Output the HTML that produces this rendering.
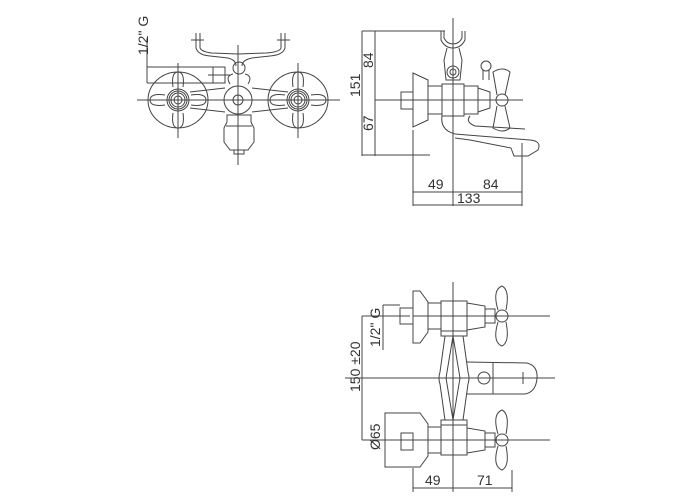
<!DOCTYPE html>
<html><head><meta charset="utf-8"><style>
html,body{margin:0;padding:0;background:#fff;}
svg{display:block;}
text{font-family:"Liberation Sans",sans-serif;font-size:14px;fill:#333;}
</style></head><body>
<svg width="700" height="500" viewBox="0 0 700 500" xmlns="http://www.w3.org/2000/svg">
<g fill="none" stroke="#444" stroke-width="1">
<!-- ===== VIEW 1 (front) ===== -->
<line x1="137" y1="100" x2="340" y2="100"/>
<line x1="178" y1="63" x2="178" y2="138"/>
<line x1="298" y1="63" x2="298" y2="138"/>
<line x1="238" y1="45" x2="238" y2="165"/>
<!-- dim 1/2 G -->
<line x1="147" y1="38" x2="147" y2="83"/>
<line x1="147" y1="67" x2="225" y2="67"/>
<line x1="147" y1="83" x2="225" y2="83"/>
<rect x="213" y="67" width="12" height="16"/>
<line x1="208" y1="75" x2="230" y2="75"/>
<!-- holder U -->
<path d="M196 33 L196 48 Q198 55 210 56 L228 58 Q236 60 236 66 M285 33 L285 48 Q283 55 270 56 L252 58 Q242 60 242 66"/>
<path d="M200 33 L200 48 Q202 52 212 53 L238 54 L266 53 Q280 52 281 48 L281 33"/>
<line x1="191" y1="40" x2="204" y2="40"/><line x1="277" y1="40" x2="290" y2="40"/>
<circle cx="239" cy="68" r="6"/>
<path d="M230 84 Q225 76 233 74 M248 84 Q253 76 245 74"/>
<!-- body -->
<path d="M190 92 L225 88 M190 108 L225 112 M252 88 L288 92 M252 112 L288 108"/>
<circle cx="238" cy="100" r="14"/><circle cx="238" cy="100" r="5"/>
<!-- handles -->
<g>
<ellipse cx="178" cy="100" rx="30" ry="28"/>
<path d="M150 100 Q150 93 165 95 M150 100 Q150 107 165 105 M206 100 Q206 93 191 95 M206 100 Q206 107 191 105 M178 72 Q171 72 173 87 M178 72 Q185 72 183 87 M178 128 Q171 128 173 113 M178 128 Q185 128 183 113"/>
<circle cx="178" cy="100" r="11"/><circle cx="178" cy="100" r="9"/><circle cx="178" cy="100" r="7"/><circle cx="178" cy="100" r="4"/>
</g>
<g>
<ellipse cx="298" cy="100" rx="30" ry="28"/>
<path d="M270 100 Q270 93 285 95 M270 100 Q270 107 285 105 M326 100 Q326 93 311 95 M326 100 Q326 107 311 105 M298 72 Q291 72 293 87 M298 72 Q305 72 303 87 M298 128 Q291 128 293 113 M298 128 Q305 128 303 113"/>
<circle cx="298" cy="100" r="11"/><circle cx="298" cy="100" r="9"/><circle cx="298" cy="100" r="7"/><circle cx="298" cy="100" r="4"/>
</g>
<!-- spout -->
<path d="M227 115 L251 115 L251 122 L254 128 L254 142 L248 150 L230 150 L224 142 L224 128 L227 122 Z"/>
<line x1="226" y1="126" x2="252" y2="126"/>
<rect x="234" y="150" width="10" height="4"/>

<!-- ===== VIEW 2 (side) ===== -->
<line x1="362" y1="31" x2="362" y2="156"/>
<line x1="375" y1="31" x2="375" y2="156"/>
<line x1="362" y1="31" x2="445" y2="31"/>
<line x1="362" y1="155" x2="430" y2="155"/>
<line x1="375" y1="100" x2="523" y2="100"/>
<line x1="453" y1="18" x2="453" y2="206"/>
<!-- holder -->
<path d="M441 31 L441 40 Q445 48 453 48 Q461 48 465 40 L465 31 M444 31 L444 38 Q447 44 453 44 Q459 44 462 38 L462 31"/>
<path d="M447 48 L444 60 L446 80 L460 80 L462 60 L459 48"/>
<circle cx="453" cy="72" r="6"/><circle cx="453" cy="72" r="3"/>
<!-- plate, nut -->
<path d="M413 73 L428 80 L428 120 L413 127 Z"/>
<rect x="401" y="92" width="12" height="17"/>
<rect x="428" y="86" width="14" height="28"/>
<rect x="442" y="84" width="22" height="32"/>
<rect x="464" y="86" width="14" height="28"/>
<path d="M478 88 L490 92 L490 108 L478 112"/>
<!-- valve handle -->
<path d="M483 80 L483 70 M489 80 L489 70"/>
<circle cx="486" cy="66" r="5"/>
<path d="M497 95 L493 72 Q503 66 510 72 L505 95 M497 106 L493 128 Q503 134 510 128 L505 106"/>
<circle cx="502" cy="100" r="6"/>
<!-- spout -->
<path d="M442 116 Q440 130 455 134 L530 140 Q542 141 538 150 L528 156 L514 156 L511 148 L470 140 L455 138 M470 116 Q465 122 475 126 L525 129"/>
<line x1="522" y1="143" x2="522" y2="206"/>
<line x1="413" y1="130" x2="413" y2="206"/>
<line x1="413" y1="192" x2="522" y2="192"/>
<line x1="413" y1="205" x2="522" y2="205"/>

<!-- ===== VIEW 3 (top) ===== -->
<line x1="362" y1="316" x2="362" y2="440"/>
<line x1="362" y1="316" x2="410" y2="316"/>
<line x1="362" y1="440" x2="410" y2="440"/>
<line x1="345" y1="378" x2="555" y2="378"/>
<line x1="413" y1="316" x2="550" y2="316"/>
<line x1="390" y1="440" x2="550" y2="440"/>
<line x1="453" y1="282" x2="453" y2="492"/>
<line x1="383" y1="350" x2="383" y2="305"/>
<line x1="383" y1="305" x2="400" y2="305"/>
<!-- top row -->
<rect x="400" y="308" width="13" height="16"/>
<path d="M413 291 L420 291 L428 302 L428 332 L420 343 L413 343 Z"/>
<rect x="428" y="303" width="13" height="26"/>
<rect x="441" y="301" width="26" height="30"/>
<path d="M467 303 L485 306 L485 327 L467 330"/>
<path d="M485 309 L495 309 L495 323 L485 323"/>
<path d="M498 310 Q492 290 502 286 Q510 290 506 310 M498 322 Q492 342 502 346 Q510 342 506 322"/>
<circle cx="502" cy="316" r="6"/>
<!-- column -->
<rect x="441" y="331" width="26" height="5"/>
<path d="M445 336 L440 372 Q438 378 440 384 L445 420 M463 336 L468 372 Q470 378 468 384 L463 420"/>
<path d="M453 336 L446 378 L453 420 L460 378 Z"/>
<rect x="441" y="420" width="26" height="5"/>
<!-- diverter -->
<path d="M467 362 L527 363 Q538 366 537 378 Q536 392 525 394 L467 394"/>
<circle cx="484" cy="378" r="6"/>
<line x1="523" y1="372" x2="523" y2="384"/>
<line x1="493" y1="363" x2="493" y2="394"/>
<!-- bottom row -->
<path d="M385 413 L420 413 L428 424 L428 456 L420 467 L385 467 Z"/>
<rect x="401" y="433" width="12" height="17"/>
<rect x="428" y="427" width="13" height="26"/>
<rect x="441" y="425" width="26" height="30"/>
<path d="M467 428 L485 431 L485 450 L467 453"/>
<path d="M485 433 L495 433 L495 447 L485 447"/>
<path d="M498 434 Q492 414 502 410 Q510 414 506 434 M498 446 Q492 466 502 470 Q510 466 506 446"/>
<circle cx="502" cy="440" r="6"/>
<!-- bottom dims -->
<line x1="413" y1="468" x2="413" y2="492"/>
<line x1="512" y1="470" x2="512" y2="492"/>
<line x1="413" y1="488" x2="512" y2="488"/>
</g>
<!-- texts -->
<text transform="translate(148,55) rotate(-90)">1/2" G</text>
<text transform="translate(360,97) rotate(-90)">151</text>
<text transform="translate(373,68) rotate(-90)">84</text>
<text transform="translate(373,131) rotate(-90)">67</text>
<text x="428" y="189">49</text>
<text x="483" y="189">84</text>
<text x="457" y="203">133</text>
<text transform="translate(360,392) rotate(-90)">150 ±20</text>
<text transform="translate(380,347) rotate(-90)">1/2" G</text>
<text transform="translate(380,450) rotate(-90)">Ø65</text>
<text x="425" y="485">49</text>
<text x="477" y="485">71</text>
</svg>
</body></html>
